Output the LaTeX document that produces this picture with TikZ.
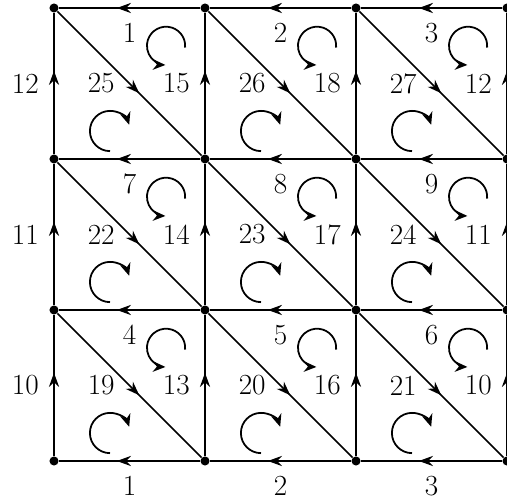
\documentclass[tikz,border=0pt]{standalone}
\usetikzlibrary{arrows.meta,decorations.markings}

\tikzset{
  vertex/.style={circle, fill=black, inner sep=0pt, minimum size=0.18cm},
  edgelab/.style={inner sep=0pt, font=\fontsize{16.5}{20}\selectfont},
  midarrow/.style={postaction={decorate}, decoration={markings,
      mark=at position #1 with {\arrow{Stealth[length=0.28cm,width=0.2cm]}}}},
  gridedge/.style={line width=1.3pt, midarrow=0.59},
  diagedge/.style={line width=0.95pt, midarrow=0.57},
  turn/.style={line width=1pt, -{Stealth[length=0.25cm,width=0.21cm]}}
}

\begin{document}
\begin{tikzpicture}
\def\a{3}
\def\r{0.38}
\useasboundingbox (-1.073,-0.775) rectangle (9,9.159);

% vertices of the grid
\foreach \i in {0,1,...,3}
{
    \foreach \j in {0,1,...,3}
    {
        \node[vertex] (v-\i-\j) at (\a*\i,\a*\j) {};
    }
}

% horizontal edges, pointing left
\foreach \i [count=\k from 1] in {0,1,2}
{
    \foreach \j in {0,1,...,3}
    {
        \pgfmathtruncatemacro\lab{1+3*mod(\j,3)+\i}
        \draw[gridedge] (v-\k-\j) -- (v-\i-\j) node[midway, below=0.28cm, edgelab] {\lab};
    }
}

% vertical edges, pointing up
\foreach \i in {0,1,...,3}
{
    \foreach \j [count=\k from 1] in {0,1,2}
    {
        \pgfmathtruncatemacro\lab{10+3*mod(\i,3)+\j}
        \draw[gridedge] (v-\i-\j) -- (v-\i-\k) node[midway, left=0.28cm, edgelab] {\lab};
    }
}

% diagonals and the turning arrows of the two triangles
\foreach \i [count=\m from 1] in {0,1,2}
{
    \foreach \j [count=\k from 1] in {0,1,2}
    {
        \pgfmathtruncatemacro\lab{19+3*\j+\i}
        \draw[diagedge] (v-\i-\k) -- (v-\m-\j) node[midway, left=0.28cm, edgelab] {\lab};

        \draw[turn] (\a*\i+2.225+\r,\a*\k-0.755) ++(0,-0.03)
            arc[start angle=-5, end angle=268, radius=\r];
        \draw[turn] (\a*\i+1.113,\a*\k-2.444-0.4)
            arc[start angle=-90, end angle=-342, radius=0.4];
    }
}

\end{tikzpicture}
\end{document}
